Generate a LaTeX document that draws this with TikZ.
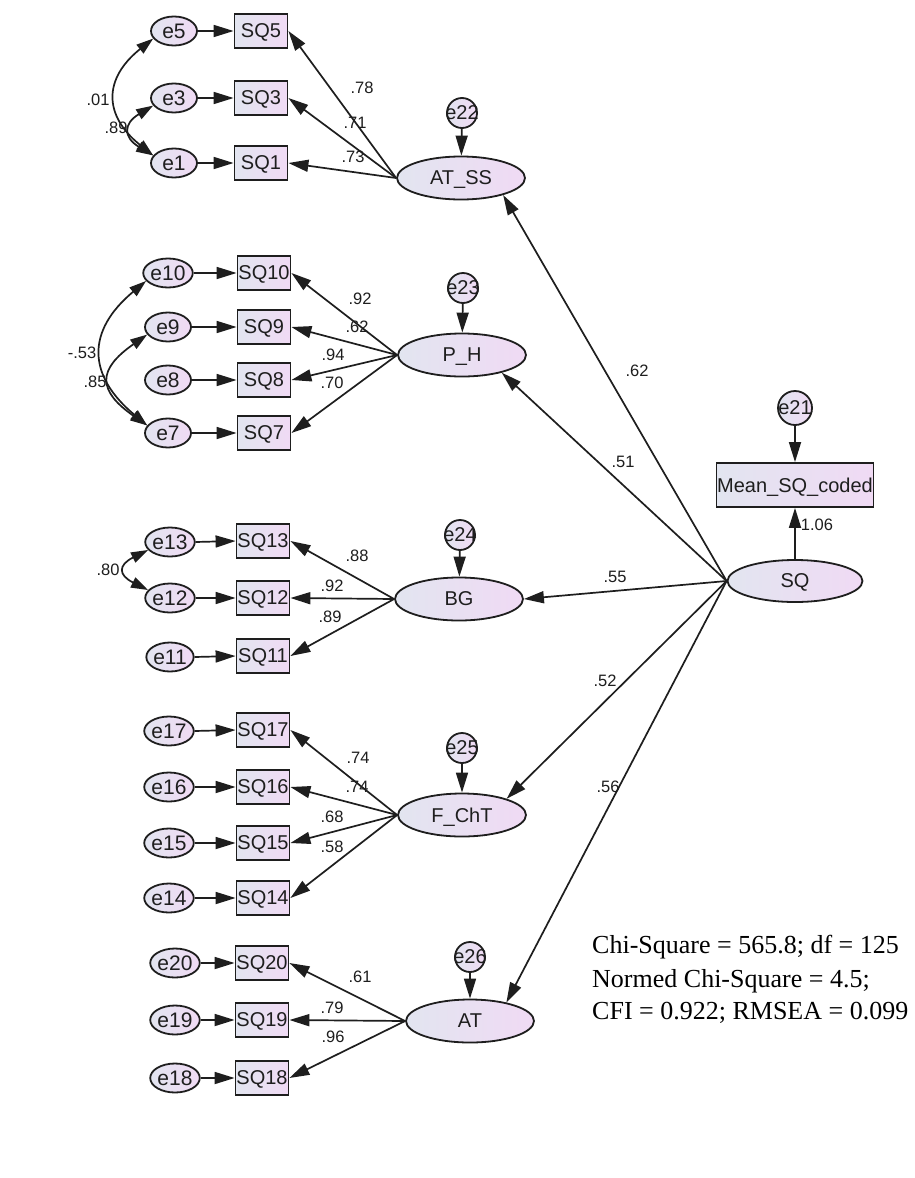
\documentclass[tikz,border=0pt]{standalone}
\usepackage{fontspec}
\setmainfont{Liberation Serif}
\newfontfamily\amosfont{Liberation Sans}
\usetikzlibrary{arrows.meta,shapes.geometric}

\definecolor{shadeL}{RGB}{226,229,240}
\definecolor{shadeR}{RGB}{240,218,244}
\definecolor{ink}{RGB}{30,30,30}

\tikzset{
  var/.style={draw=ink, line width=1.8pt, left color=shadeL, right color=shadeR,
              inner sep=0pt, text depth=0pt, text=ink,
              font=\amosfont\fontsize{20}{20}\selectfont},
  latent/.style={var, ellipse, minimum width=128pt, minimum height=43pt},
  errvar/.style={var, ellipse, minimum width=46pt, minimum height=29pt,
                 font=\amosfont\fontsize{21}{21}\selectfont},
  resid/.style={var, circle, minimum size=30pt},
  item/.style={var, rectangle, minimum width=53pt, minimum height=34pt},
  coef/.style={font=\amosfont\fontsize{16.5}{16.5}\selectfont, inner sep=0pt, text=ink},
  link/.style={draw=ink, line width=1.7pt, -{Triangle[length=20pt,width=12pt]}},
  covar/.style={draw=ink, line width=1.7pt,
                {Triangle[length=17pt,width=11pt]}-{Triangle[length=17pt,width=11pt]}},
  fitline/.style={font=\fontsize{26}{26}\selectfont, anchor=base west, inner sep=0pt, text=black},
}
\newcommand{\rl}[1]{\makebox[0pt]{#1}}

\begin{document}
\begin{tikzpicture}[x=1pt,y=-1pt]
\path[use as bounding box, fill=white] (0,0) rectangle (914,1178);

% ---------- AT_SS ----------
\node[errvar] (e5) at (174,31) {e5};
\node[errvar] (e3) at (174,98) {e3};
\node[errvar] (e1) at (174,163) {e1};
\node[item] (SQ5) at (261,31) {SQ5};
\node[item] (SQ3) at (261,98) {SQ3};
\node[item] (SQ1) at (261,163) {SQ1};
\node[latent] (ATSS) at (461,178) {AT\_SS};
\node[resid] (e22) at (462,113) {\rl{e22}};
\foreach \e/\s in {e5/SQ5,e3/SQ3,e1/SQ1} \draw[link] (\e.east) -- (\s.west);
\foreach \s in {SQ5,SQ3,SQ1} \draw[link] (ATSS.west) -- (\s.east);
\draw[link] (e22) -- (ATSS);
\draw[covar] (e5.200) .. controls +(-50,40) and +(-50,-40) .. (e1.160);
\draw[covar] (e3.200) .. controls +(-30,18) and +(-30,-18) .. (e1.160);
\node[coef] (c01) at (98,100) {.01};
\node[coef] (c89) at (116,128) {.89};
\node[coef] (c78) at (362,88) {.78};
\node[coef] (c71) at (355,123) {.71};
\node[coef] (c73) at (353,157) {.73};

% ---------- P_H ----------
\node[errvar] (e10) at (168,273) {e10};
\node[errvar] (e9) at (168,327) {e9};
\node[errvar] (e8) at (168,380) {e8};
\node[errvar] (e7) at (168,433) {e7};
\node[item] (SQ10) at (264,273) {SQ10};
\node[item] (SQ9) at (264,327) {SQ9};
\node[item] (SQ8) at (264,380) {SQ8};
\node[item] (SQ7) at (264,433) {SQ7};
\node[latent] (PH) at (462,355) {P\_H};
\node[resid] (e23) at (463,288) {\rl{e23}};
\foreach \e/\s in {e10/SQ10,e9/SQ9,e8/SQ8,e7/SQ7} \draw[link] (\e.east) -- (\s.west);
\foreach \s in {SQ10,SQ9,SQ8,SQ7} \draw[link] (PH.west) -- (\s.east);
\draw[link] (e23) -- (PH);
\draw[covar] (e10.200) .. controls +(-60,50) and +(-60,-50) .. (e7.160);
\draw[covar] (e9.200) .. controls +(-50,35) and +(-50,-35) .. (e7.160);
\node[coef] (cm53) at (82,353) {-.53};
\node[coef] (c85) at (95,382) {.85};
\node[coef] (c92a) at (360,299) {.92};
\node[coef] (c62a) at (357,327) {.62};
\node[coef] (c94) at (333,355) {.94};
\node[coef] (c70) at (332,383) {.70};

% ---------- BG ----------
\node[errvar] (e13) at (170,542) {e13};
\node[errvar] (e12) at (170,598) {e12};
\node[errvar] (e11) at (170,657) {e11};
\node[item] (SQ13) at (263,541) {SQ13};
\node[item] (SQ12) at (263,598) {SQ12};
\node[item] (SQ11) at (263,656) {SQ11};
\node[latent] (BG) at (459,599) {BG};
\node[resid] (e24) at (460,535) {\rl{e24}};
\foreach \e/\s in {e13/SQ13,e12/SQ12,e11/SQ11} \draw[link] (\e.east) -- (\s.west);
\foreach \s in {SQ13,SQ12,SQ11} \draw[link] (BG.west) -- (\s.east);
\draw[link] (e24) -- (BG);
\draw[covar] (e13.200) .. controls +(-30,15) and +(-30,-15) .. (e12.160);
\node[coef] (c80) at (108,570) {.80};
\node[coef] (c88) at (357,556) {.88};
\node[coef] (c92b) at (332,586) {.92};
\node[coef] (c89b) at (330,617) {.89};

% ---------- F_ChT ----------
\node[errvar] (e17) at (169,731) {e17};
\node[errvar] (e16) at (169,787) {e16};
\node[errvar] (e15) at (169,843) {e15};
\node[errvar] (e14) at (169,898) {e14};
\node[item] (SQ17) at (263,730) {SQ17};
\node[item] (SQ16) at (263,787) {SQ16};
\node[item] (SQ15) at (263,843) {SQ15};
\node[item] (SQ14) at (263,898) {SQ14};
\node[latent] (FCT) at (462,815) {F\_ChT};
\node[resid] (e25) at (462,748) {\rl{e25}};
\foreach \e/\s in {e17/SQ17,e16/SQ16,e15/SQ15,e14/SQ14} \draw[link] (\e.east) -- (\s.west);
\foreach \s in {SQ17,SQ16,SQ15,SQ14} \draw[link] (FCT.west) -- (\s.east);
\draw[link] (e25) -- (FCT);
\node[coef] (c74a) at (358,758) {.74};
\node[coef] (c74b) at (357,787) {.74};
\node[coef] (c68) at (332,817) {.68};
\node[coef] (c58) at (332,847) {.58};

% ---------- AT ----------
\node[errvar] (e20) at (175,963) {e20};
\node[errvar] (e19) at (175,1020) {e19};
\node[errvar] (e18) at (175,1078) {e18};
\node[item] (SQ20) at (262,963) {SQ20};
\node[item] (SQ19) at (262,1020) {SQ19};
\node[item] (SQ18) at (262,1078) {SQ18};
\node[latent] (AT) at (470,1021) {AT};
\node[resid] (e26) at (470,957) {\rl{e26}};
\foreach \e/\s in {e20/SQ20,e19/SQ19,e18/SQ18} \draw[link] (\e.east) -- (\s.west);
\foreach \s in {SQ20,SQ19,SQ18} \draw[link] (AT.west) -- (\s.east);
\draw[link] (e26) -- (AT);
\node[coef] (c61) at (360,977) {.61};
\node[coef] (c79) at (332,1008) {.79};
\node[coef] (c96) at (333,1037) {.96};

% ---------- second-order factor ----------
\node[latent, minimum width=135pt, minimum height=42pt] (SQ) at (795,581) {SQ};
\node[item, minimum width=157pt, minimum height=44pt] (Mean) at (795,485) {Mean\_SQ\_coded};
\node[resid, minimum size=34pt] (e21) at (795,408) {\rl{e21}};
\draw[link] (e21) -- (Mean);
\draw[link] (SQ) -- (Mean);
\node[coef] (c106) at (817,525) {1.06};

\draw[link] (SQ.west) -- (ATSS.-22);
\draw[link] (SQ.west) -- (PH.-24);
\draw[link] (SQ.west) -- (BG.east);
\draw[link] (SQ.west) -- (FCT.20);
\draw[link] (SQ.west) -- (AT.27);
\node[coef] (s62) at (637,371) {.62};
\node[coef] (s51) at (623,462) {.51};
\node[coef] (s55) at (615,577) {.55};
\node[coef] (s52) at (605,681) {.52};
\node[coef] (s56) at (608,787) {.56};

% ---------- fit indices ----------
\node[fitline] (fit1) at (592,953) {Chi-Square = 565.8; df = 125};
\node[fitline] (fit2) at (592,987) {Normed Chi-Square = 4.5;};
\node[fitline] (fit3) at (592,1019) {CFI = 0.922; RMSEA = 0.099};
\end{tikzpicture}
\end{document}
